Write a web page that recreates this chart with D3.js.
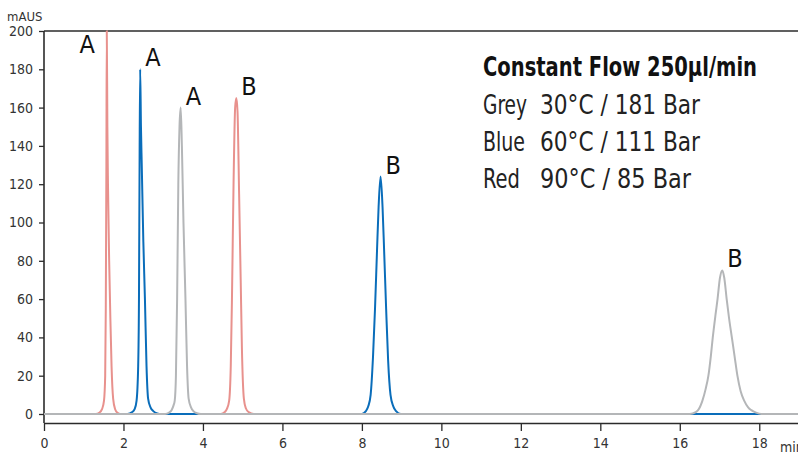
<!DOCTYPE html>
<html>
<head>
<meta charset="utf-8">
<script src="https://cdn.jsdelivr.net/npm/d3@7"></script>
<style>
  body { margin: 0; background: #fff; }
  svg { display: block; }
</style>
</head>
<body>
<svg id="chart" width="798" height="455"></svg>
<script>
// chromatogram traces, [time (min), signal (mAUS)]
const redTrace = [
  [0, 0], [1.30, 0], [1.40, 0.8], [1.46, 2.5], [1.51, 7], [1.54, 20], [1.555, 55],
  [1.57, 130], [1.58, 200], [1.595, 150], [1.61, 120], [1.64, 80], [1.67, 50],
  [1.70, 25], [1.74, 8], [1.79, 2.5], [1.85, 0.6], [1.92, 0],
  [4.45, 0], [4.55, 1], [4.60, 2.5], [4.66, 7], [4.70, 25], [4.73, 60], [4.77, 120],
  [4.81, 160], [4.84, 165], [4.87, 158], [4.91, 115], [4.95, 70], [4.98, 35],
  [5.03, 8], [5.08, 3], [5.15, 1], [5.28, 0], [19, 0]
];
const blueTrace = [
  [0, 0], [2.10, 0], [2.22, 1], [2.28, 2.5], [2.33, 7], [2.37, 25], [2.39, 60],
  [2.405, 130], [2.42, 180], [2.44, 150], [2.46, 130], [2.50, 90], [2.54, 60],
  [2.58, 25], [2.62, 8], [2.68, 3.5], [2.75, 1.5], [2.85, 0.3], [2.95, 0],
  [8.00, 0], [8.10, 1.5], [8.16, 4], [8.22, 10], [8.28, 30], [8.33, 55], [8.38, 85],
  [8.42, 108], [8.47, 124], [8.52, 108], [8.56, 85], [8.61, 55], [8.66, 28],
  [8.72, 10], [8.79, 4], [8.86, 1.5], [8.98, 0], [19, 0]
];
const greyTrace = [
  [0, 0], [3.05, 0], [3.15, 0.8], [3.21, 2], [3.26, 4.5], [3.29, 7], [3.32, 20],
  [3.35, 60], [3.38, 120], [3.41, 150], [3.44, 160], [3.47, 140], [3.51, 100],
  [3.56, 60], [3.60, 25], [3.64, 8], [3.70, 3.5], [3.76, 1.5], [3.85, 0.4], [3.95, 0],
  [16.25, 0], [16.40, 1], [16.46, 2], [16.57, 7], [16.65, 13], [16.72, 20],
  [16.78, 30], [16.83, 40], [16.90, 52], [16.95, 60], [17.01, 71], [17.07, 75],
  [17.12, 71], [17.18, 60], [17.24, 50], [17.31, 40], [17.38, 30], [17.45, 20],
  [17.53, 12], [17.62, 7], [17.72, 3.5], [17.80, 2], [17.92, 0.7], [18.05, 0], [19, 0]
];

// peak names at their apex
const peakLabels = [
  { t: 1.58, v: 200, name: "A", side: "left" },
  { t: 2.42, v: 180, name: "A" },
  { t: 3.44, v: 160, name: "A" },
  { t: 4.84, v: 165, name: "B" },
  { t: 8.47, v: 124, name: "B" },
  { t: 17.07, v: 75, name: "B" }
];

const xTicks = [0, 2, 4, 6, 8, 10, 12, 14, 16, 18];
const yTicks = [0, 20, 40, 60, 80, 100, 120, 140, 160, 180, 200];

const legendTitle = "Constant Flow 250µl/min";
const legendNames = ["Grey", "Blue", "Red"];
const legendText = ["30°C / 181 Bar", "60°C / 111 Bar", "90°C / 85 Bar"];

const width = 798,
  height = 455,
  margin = { top: 31, right: -1, left: 44 },
  y0 = 414,     // pixel row of 0 mAUS
  xAxisY = 423; // x axis sits a little under the baseline

const svg = d3.select("#chart");
const font = "'DejaVu Sans', sans-serif";

// condensed look: DejaVu Sans Condensed via font-stretch
function condensed(sel, size) {
  return sel
    .style("font-family", font)
    .style("font-stretch", "condensed")
    .style("font-size", size + "px");
}

const x = d3.scaleLinear().domain([0, 19]).range([margin.left, width - margin.right]);
const y = d3.scaleLinear().domain([0, 200]).range([y0, margin.top]);

// frame: top border and y axis line
svg.append("line")
  .attr("x1", margin.left).attr("x2", width)
  .attr("y1", margin.top).attr("y2", margin.top)
  .attr("stroke", "#2b2b2b").attr("stroke-width", 1.6);

svg.append("line")
  .attr("x1", margin.left).attr("x2", margin.left)
  .attr("y1", margin.top).attr("y2", xAxisY)
  .attr("stroke", "#2b2b2b").attr("stroke-width", 1.6);

// y axis
const gY = svg.append("g")
  .attr("transform", "translate(" + margin.left + ",0)")
  .call(d3.axisLeft(y).tickValues(yTicks).tickSize(5).tickPadding(6).tickSizeOuter(0));
gY.select(".domain").remove();
gY.selectAll("line").attr("stroke", "#2b2b2b").attr("stroke-width", 1.3);
condensed(gY.selectAll("text").attr("fill", "#333"), 14);

// x axis
const gX = svg.append("g")
  .attr("transform", "translate(0," + xAxisY + ")")
  .call(d3.axisBottom(x).tickValues(xTicks).tickSize(8).tickPadding(7).tickSizeOuter(0));
gX.select(".domain").attr("stroke", "#2b2b2b").attr("stroke-width", 1.6);
gX.selectAll("line").attr("stroke", "#2b2b2b").attr("stroke-width", 1.3);
condensed(gX.selectAll("text").attr("fill", "#333"), 14);

// unit labels
condensed(svg.append("text"), 13)
  .attr("x", 7).attr("y", 21)
  .attr("fill", "#333")
  .text("mAUS");

condensed(svg.append("text"), 14)
  .attr("x", 780).attr("y", 452)
  .attr("fill", "#333")
  .text("min");

// traces
const line = d3.line()
  .x((d) => x(d[0]))
  .y((d) => y(d[1]))
  .curve(d3.curveMonotoneX);

const traces = [
  { data: redTrace, color: "#E8918D" },
  { data: blueTrace, color: "#0A6DBA" },
  { data: greyTrace, color: "#B4B6B8" }
];

svg.append("g")
  .selectAll("path")
  .data(traces)
  .join("path")
  .attr("d", (d) => line(d.data))
  .attr("fill", "none")
  .attr("stroke", (d) => d.color)
  .attr("stroke-width", 2)
  .attr("stroke-linejoin", "round");

// peak labels
condensed(
  svg.append("g")
    .selectAll("text")
    .data(peakLabels)
    .join("text"),
  25
)
  .attr("x", (d) => (d.side === "left" ? x(d.t) - 12 : x(d.t) + 5))
  .attr("y", (d) => (d.side === "left" ? y(d.v) + 22 : y(d.v) - 3))
  .attr("text-anchor", (d) => (d.side === "left" ? "end" : "start"))
  .attr("fill", "#111")
  .text((d) => d.name);

// conditions box
const gLegend = svg.append("g").attr("transform", "translate(483,0)");

condensed(gLegend.append("text"), 27)
  .attr("x", 0).attr("y", 76)
  .attr("fill", "#111")
  .style("font-weight", "bold")
  .attr("textLength", 274)
  .attr("lengthAdjust", "spacingAndGlyphs")
  .text(legendTitle);

const nameWidths = [44, 42, 37],
  condWidths = [160, 160, 151];

condensed(
  gLegend.selectAll("text.name")
    .data(legendNames)
    .join("text")
    .attr("class", "name"),
  27
)
  .attr("x", 0)
  .attr("y", (d, i) => 114 + i * 37)
  .attr("fill", "#222")
  .attr("textLength", (d, i) => nameWidths[i])
  .attr("lengthAdjust", "spacingAndGlyphs")
  .text((d) => d);

condensed(
  gLegend.selectAll("text.cond")
    .data(legendText)
    .join("text")
    .attr("class", "cond"),
  27
)
  .attr("x", 57)
  .attr("y", (d, i) => 114 + i * 37)
  .attr("fill", "#222")
  .attr("textLength", (d, i) => condWidths[i])
  .attr("lengthAdjust", "spacingAndGlyphs")
  .text((d) => d);
</script>
</body>
</html>
